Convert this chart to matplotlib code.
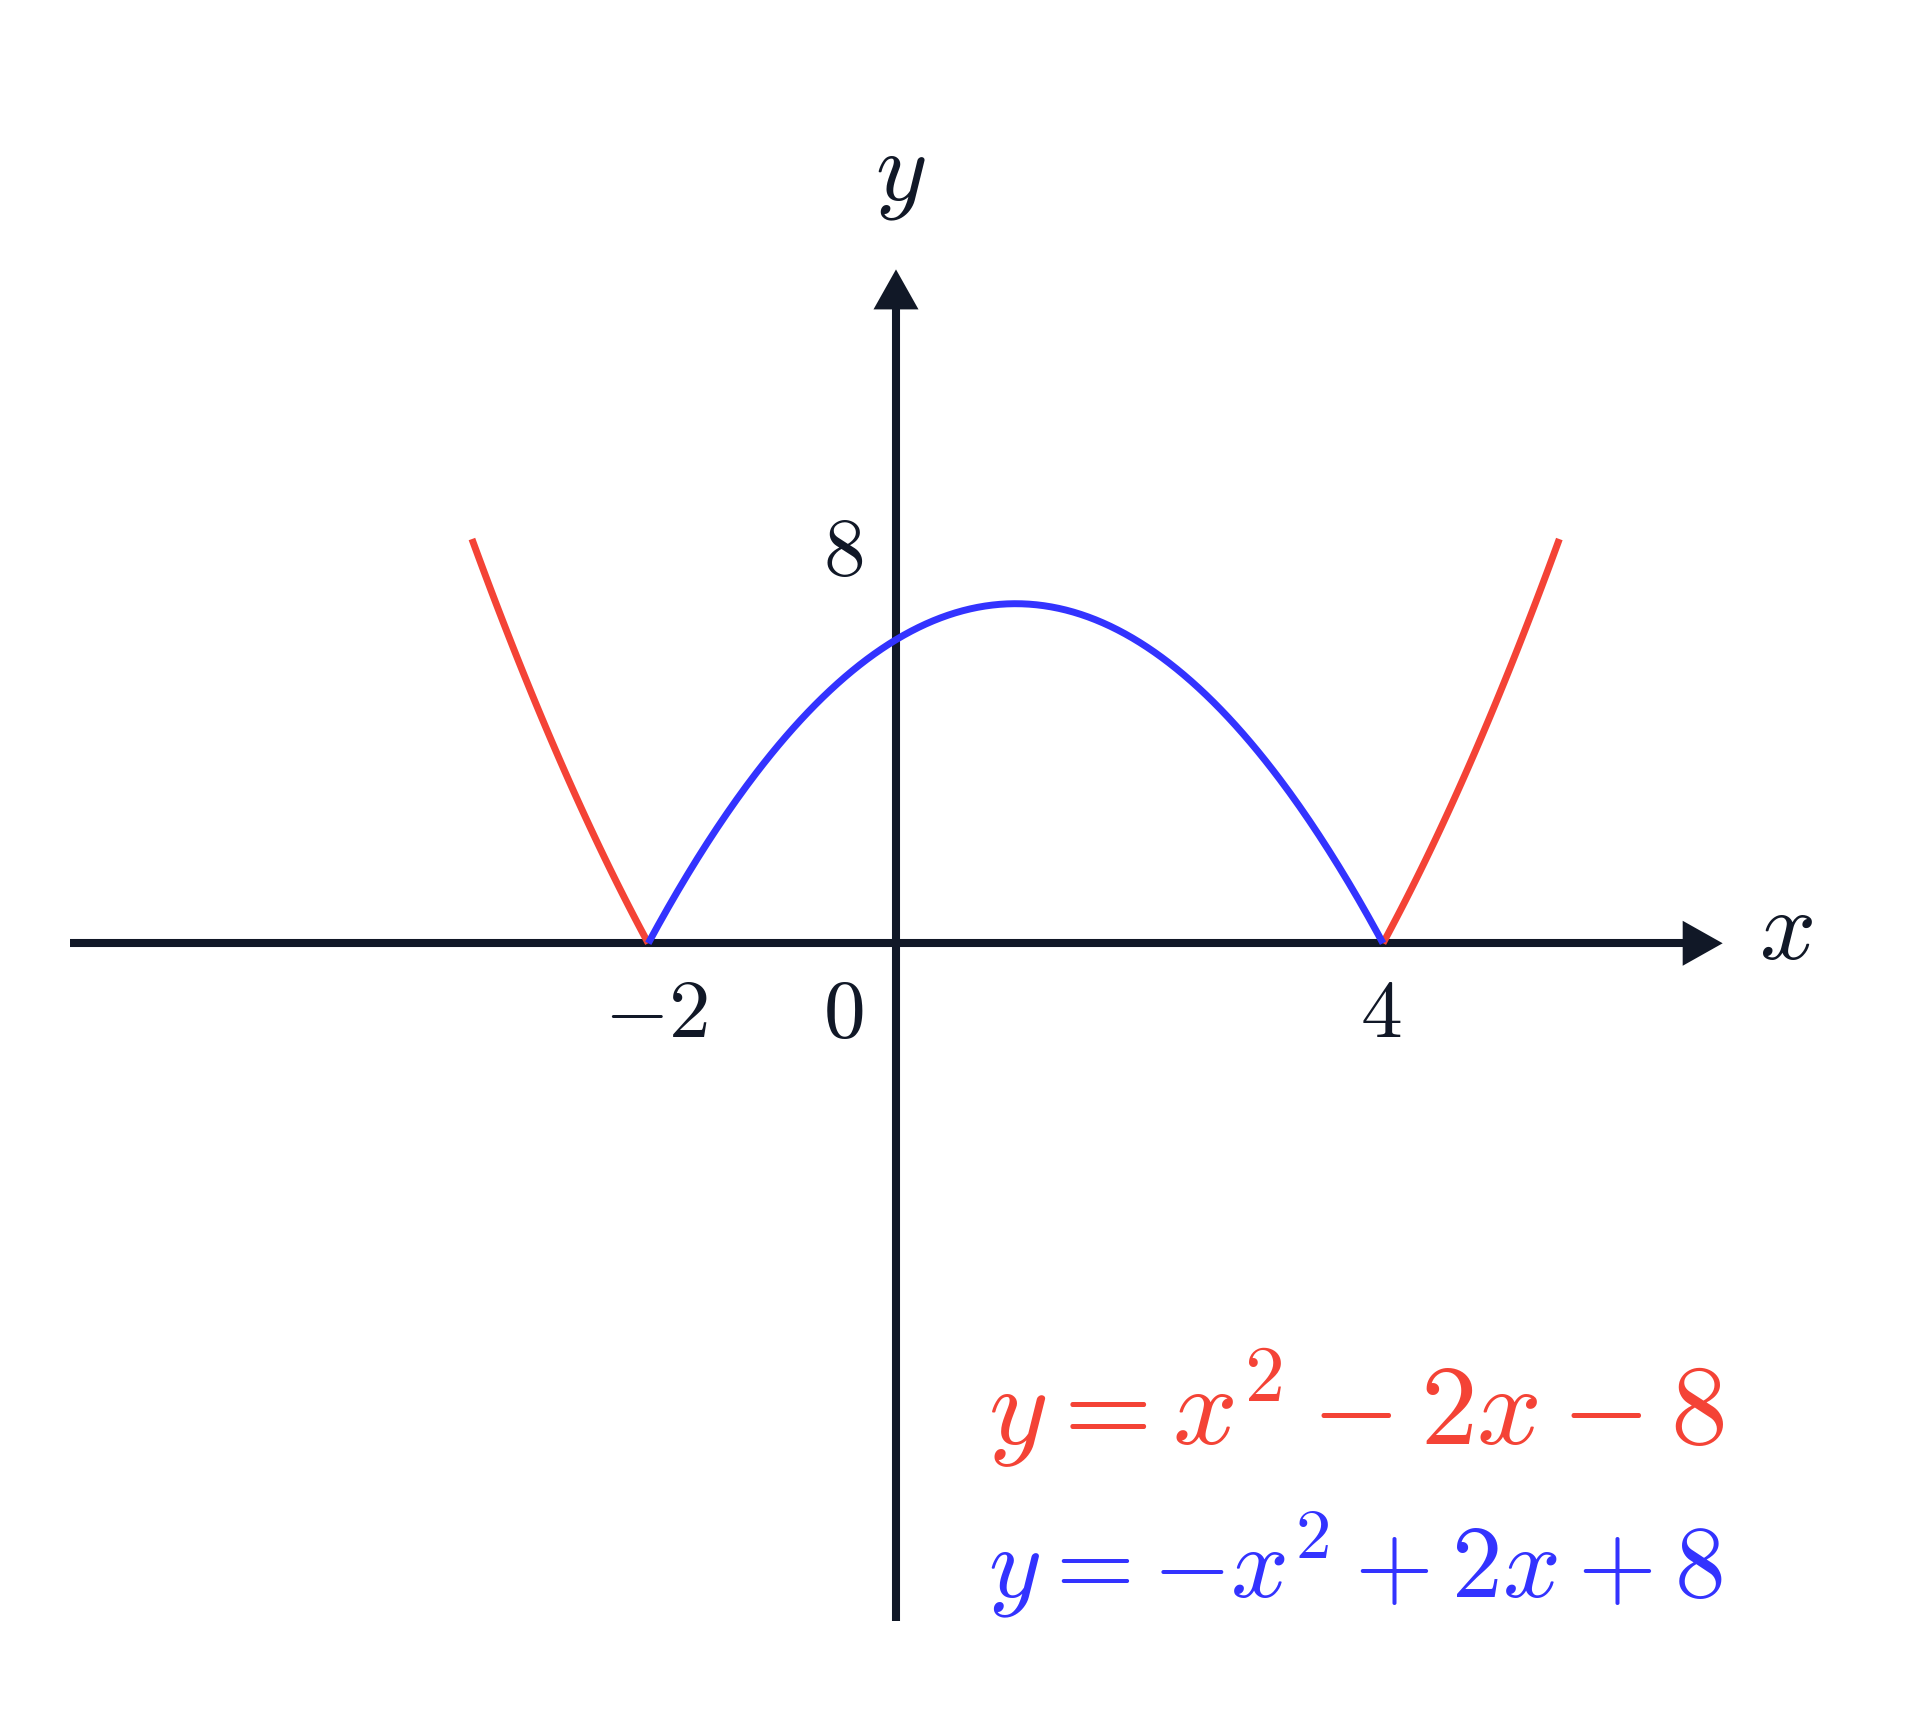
import matplotlib
matplotlib.use("Agg")
import matplotlib.pyplot as plt
import numpy as np

plt.rcParams['mathtext.fontset'] = 'cm'

# coeficientes das parabolas (a, b, c) -> y = a x^2 + b x + c
coef_vermelha = [1, -2, -8]
coef_azul = [-1, 2, 8]

# raizes comuns e extremos de desenho da vermelha
raizes = [-2, 4]
x_min_vermelha, x_max_vermelha = -3.44, 5.44

# rotulos dos eixos
rotulos_x = ["${-}2$", "$0$", "$4$"]
pos_rotulos_x = [-1.94, -0.41, 3.984]
rotulo_y8 = "$8$"

cor_eixo = "#111827"
cor_vermelha = "#f44336"
cor_azul = "#3333ff"

fig = plt.figure(figsize=(19.18, 17.36), dpi=100)
ax = fig.add_axes([0, 0, 1, 1])
ax.set_xlim(-7.294, 8.369)
ax.set_ylim(-21.01, 25.0)
ax.axis("off")

# eixos com setas
x_eixo = 0.023
seta = dict(arrowstyle="-|>,head_length=28.8,head_width=16.2",
            mutation_scale=1, color=cor_eixo, lw=0, shrinkA=0, shrinkB=0)
ax.plot([-6.72, 6.46], [0, 0], color=cor_eixo, lw=5.8, solid_capstyle="butt")
ax.annotate("", xy=(6.774, 0), xytext=(6.0, 0), arrowprops=seta)
ax.plot([x_eixo, x_eixo], [-17.96, 16.85], color=cor_eixo, lw=5.8, solid_capstyle="butt")
ax.annotate("", xy=(x_eixo, 17.86), xytext=(x_eixo, 15.0), arrowprops=seta)

# curvas
def parabola(c, x):
    return c[0] * x**2 + c[1] * x + c[2]

xe = np.linspace(x_min_vermelha, raizes[0], 100)
xd = np.linspace(raizes[1], x_max_vermelha, 100)
xm = np.linspace(raizes[0], raizes[1], 300)
ax.plot(xe, parabola(coef_vermelha, xe), color=cor_vermelha, lw=5, solid_capstyle="butt")
ax.plot(xd, parabola(coef_vermelha, xd), color=cor_vermelha, lw=5, solid_capstyle="butt")
ax.plot(xm, parabola(coef_azul, xm), color=cor_azul, lw=5, solid_capstyle="butt")

# rotulos
for r, p in zip(rotulos_x, pos_rotulos_x):
    ax.text(p, -2.49, r, fontsize=60, ha="center", va="baseline", color=cor_eixo)
ax.text(-0.41, 9.76, rotulo_y8, fontsize=60, ha="center", va="baseline", color=cor_eixo)
ax.text(7.07, -0.415, "$x$", fontsize=71, ha="left", va="baseline", color=cor_eixo)
ax.text(0.054, 19.7, "$y$", fontsize=71, ha="center", va="baseline", color=cor_eixo)

# equacoes
ax.text(0.777, -13.3, r"$y = x^2 - \mathbf{2}x - 8$", fontsize=82,
        ha="left", va="baseline", color=cor_vermelha)
ax.text(0.777, -17.33, r"$y = -x^2 + \mathbf{2}x + 8$", fontsize=73,
        ha="left", va="baseline", color=cor_azul)

plt.savefig("out.png", dpi=100)
